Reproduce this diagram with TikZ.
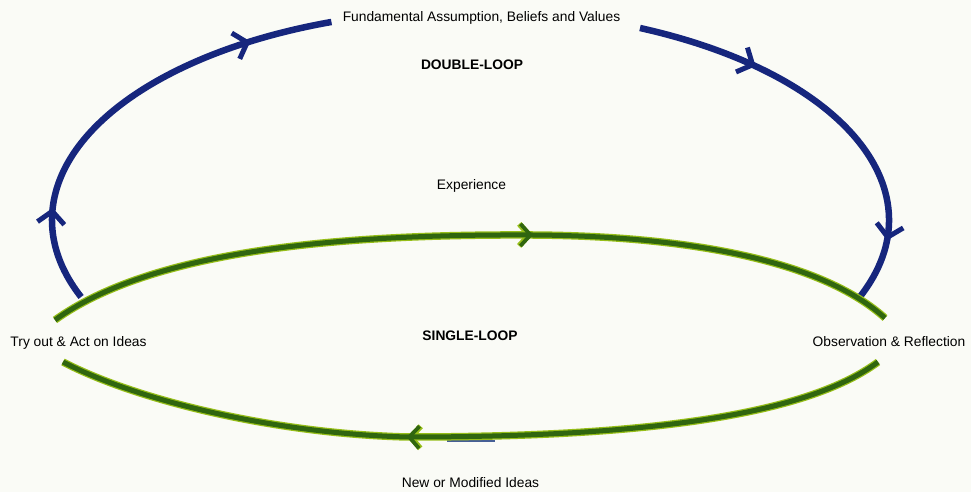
\documentclass[tikz,border=0pt]{standalone}
\usepackage{fontspec}
\setmainfont{Liberation Sans}
\usetikzlibrary{arrows.meta,decorations.markings}

\definecolor{loopblue}{RGB}{22,38,125}
\definecolor{loopgreen}{RGB}{48,102,15}
\definecolor{loopedge}{RGB}{150,190,25}
\definecolor{strayblue}{RGB}{70,95,150}
\definecolor{paper}{RGB}{250,251,246}

\tikzset{
  bluebarb/.tip={Straight Barb[length=12pt,width=27pt,line width=5pt]},
  greenbarb/.tip={Straight Barb[length=10pt,width=22pt,line width=0pt 0.75]},
  lbl/.style={font=\fontsize{13.8}{16}\selectfont, inner sep=0pt, anchor=base},
  hdr/.style={font=\fontsize{13.8}{16}\selectfont\bfseries, inner sep=0pt, anchor=base},
  blueloop/.style={draw=loopblue, line width=6.5pt, postaction={decorate}},
  % green line with a light rim; #1 is where its arrowhead sits
  greenloop/.style={
    postaction={draw=loopedge, line width=7.5pt},
    postaction={decorate, decoration={markings, mark=at position #1 with
      {\arrow[loopedge, line width=7.5pt]{greenbarb}}}},
    postaction={draw=loopgreen, line width=5pt},
    postaction={decorate, decoration={markings, mark=at position #1 with
      {\arrow[loopgreen, line width=5pt]{greenbarb}}}}},
}

\begin{document}
\begin{tikzpicture}[x=1pt,y=1pt]
  % page
  \fill[paper] (0,0) rectangle (971,492);
  \useasboundingbox (0,0) rectangle (971,492);

  % labels
  \node[lbl] (fund)   at (481.5,470) {Fundamental Assumption, Beliefs and Values};
  \node[hdr] (dbl)    at (472,422)   {DOUBLE-LOOP};
  \node[lbl] (exp)    at (471.5,302) {Experience};
  \node[hdr] (single) at (470,151)   {SINGLE-LOOP};
  \node[lbl] (try)    at (78.5,145)  {Try out \& Act on Ideas};
  \node[lbl] (obs)    at (889,145)   {Observation \& Reflection};
  \node[lbl] (newi)   at (470.5,4)   {New or Modified Ideas};

  % end points of the two loops
  \coordinate (dblL) at (81.1,195.0);
  \coordinate (dblR) at (640.0,464.0);
  \coordinate (sglTL) at (55,172);
  \coordinate (sglTR) at (885,174);
  \coordinate (sglBR) at (878,130);
  \coordinate (sglBL) at (63,130);

  % double loop: left rising branch and right falling branch
  \draw[blueloop, decoration={markings,
      mark=at position 96pt with {\arrow{bluebarb}},
      mark=at position 368pt with {\arrow{bluebarb}}}]
    (dblL) arc[start angle=201.5, end angle=109.4, x radius=418.5, y radius=210];
  \draw[blueloop, decoration={markings,
      mark=at position 122pt with {\arrow{bluebarb}},
      mark=at position 357pt with {\arrow{bluebarb}}}]
    (dblR) arc[start angle=66.1, end angle=-21.5, x radius=418.5, y radius=210];

  % short stray stroke under the lower branch
  \draw[strayblue, line width=2pt] (447,50.5) -- (495,50.5);

  % single loop: upper branch (left to right) and lower branch (right to left)
  \path[greenloop=492pt]
    (sglTL) .. controls (150,240) and (330,258) .. (532,257)
            .. controls (700,256) and (825,228) .. (sglTR);
  \path[greenloop=483pt]
    (sglBR) .. controls (800,72) and (620,55) .. (408,55)
            .. controls (280,58) and (140,90) .. (sglBL);
\end{tikzpicture}
\end{document}
